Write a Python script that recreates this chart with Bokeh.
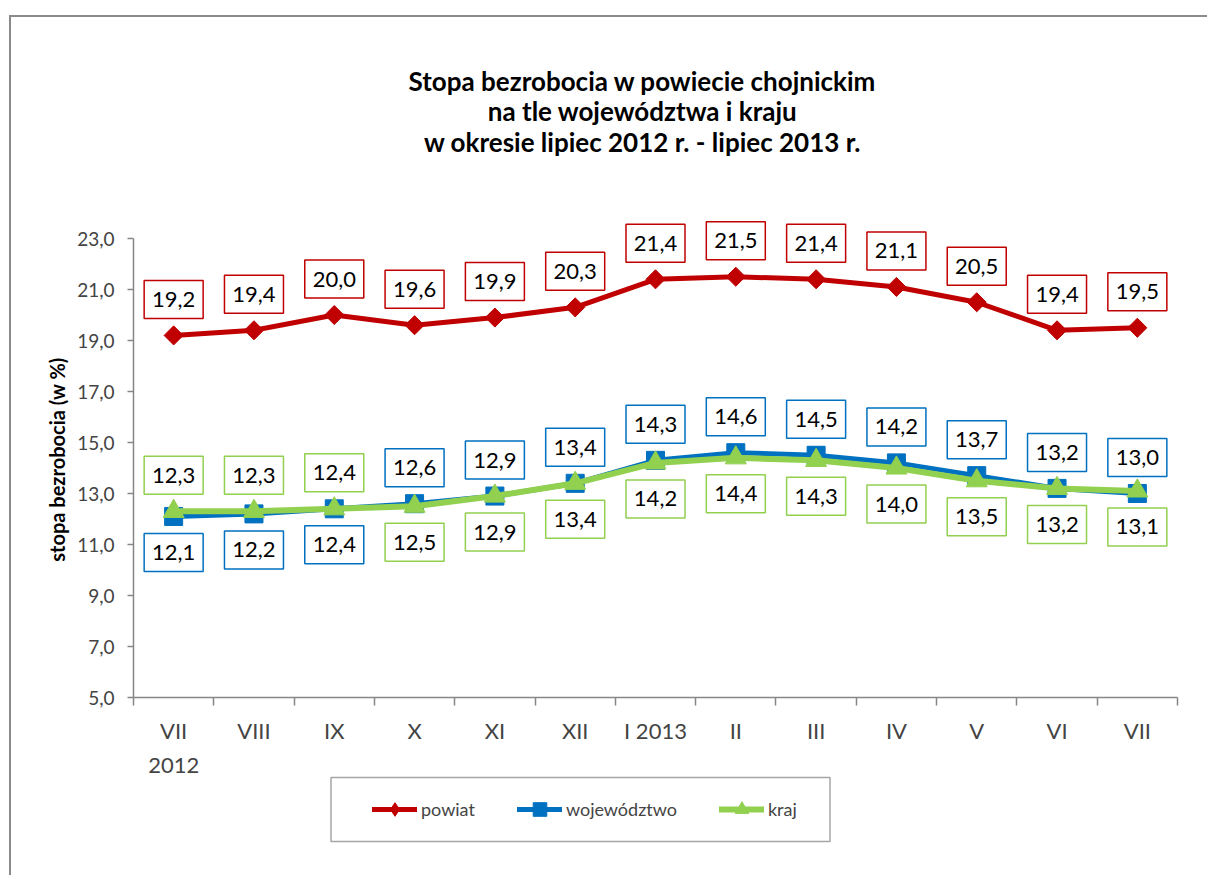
import math
from bokeh.plotting import figure
from bokeh.models import (Range1d, FixedTicker, LinearAxis, Legend, LegendItem, ColumnDataSource)
from bokeh.core.properties import value
from bokeh.embed import file_html
from bokeh.resources import INLINE

# ---------------- data ----------------
months = ["VII", "VIII", "IX", "X", "XI", "XII", "I 2013", "II", "III", "IV", "V", "VI", "VII"]
first_year = "2012"
powiat = [19.2, 19.4, 20.0, 19.6, 19.9, 20.3, 21.4, 21.5, 21.4, 21.1, 20.5, 19.4, 19.5]
wojewodztwo = [12.1, 12.2, 12.4, 12.6, 12.9, 13.4, 14.3, 14.6, 14.5, 14.2, 13.7, 13.2, 13.0]
kraj = [12.3, 12.3, 12.4, 12.5, 12.9, 13.4, 14.2, 14.4, 14.3, 14.0, 13.5, 13.2, 13.1]
series_names = ["powiat", "województwo", "kraj"]
y_ticks = [5, 7, 9, 11, 13, 15, 17, 19, 21, 23]
title_lines = ["Stopa bezrobocia w powiecie chojnickim",
               "na tle województwa i kraju",
               "w okresie lipiec 2012 r. - lipiec 2013 r."]
y_label = "stopa bezrobocia (w %)"

# ---------------- style / layout (canvas pixels) ----------------
FONT = "Lato"
W, H = 1198, 860
n = len(months)
Y0, Y1 = 5, 23
AX_LEFT_PX, AX_RIGHT_PX = 122, 1166      # plot area left/right in canvas px
AX_TOP_PX, AX_BOTTOM_PX = 221, 680       # y=23 and y=5 in canvas px
PXX = (AX_RIGHT_PX - AX_LEFT_PX) / n
PXY = (AX_BOTTOM_PX - AX_TOP_PX) / (Y1 - Y0)
X_LEFT = -0.5 - AX_LEFT_PX / PXX
X_RIGHT = X_LEFT + W / PXX
Y_TOP = Y1 + AX_TOP_PX / PXY
Y_BOTTOM = Y_TOP - H / PXY


def cx(px):  # canvas px -> data x
    return X_LEFT + px / PXX


def cy(py):  # canvas px -> data y
    return Y_TOP - py / PXY


AXIS_GRAY = "#868686"
RED, BLUE, GREEN = "#C00000", "#0070C0", "#92D050"
side_powiat = [1] * 13
side_woj = [-1, -1, -1] + [1] * 10
side_kraj = [1, 1, 1] + [-1] * 10
LABEL_OFF_PX = 36

p = figure(width=W, height=H, output_backend="svg", toolbar_location=None,
           x_range=Range1d(X_LEFT, X_RIGHT), y_range=Range1d(Y_BOTTOM, Y_TOP),
           x_axis_type=None, y_axis_type=None,
           min_border_left=0, min_border_right=0, min_border_top=0, min_border_bottom=0)
p.outline_line_color = None
p.xgrid.visible = False
p.ygrid.visible = False
p.styles = {"margin-left": "9px", "margin-top": "15px",
            "border-left": "2px solid #8a8a8a", "border-top": "2px solid #8a8a8a"}

# title (three centred lines)
title_src = ColumnDataSource(dict(x=[cx(631)] * 3, y=[cy(63), cy(93.5), cy(124.5)], t=title_lines))
p.text(x="x", y="y", text="t", source=title_src, text_align="center", text_baseline="middle",
       text_font=value(FONT), text_font_size="26px", text_font_style="bold", text_color="black")

# y axis label
p.text(x=[cx(45)], y=[cy(442)], text=[y_label], angle=math.pi / 2, text_align="center",
       text_baseline="middle", text_font=value(FONT), text_font_size="20px",
       text_font_style="bold", text_color="black")

# y axis
yax = LinearAxis(ticker=FixedTicker(ticks=y_ticks), bounds=(Y0, Y1), fixed_location=-0.5,
                 major_label_overrides={t: f"{t:.1f}".replace(".", ",") for t in y_ticks},
                 major_label_text_font=FONT, major_label_text_font_size="19px",
                 major_label_standoff=13, major_tick_out=6, major_tick_in=0,
                 minor_tick_out=0, minor_tick_in=0,
                 axis_line_color=AXIS_GRAY, axis_line_width=1.5,
                 major_tick_line_color=AXIS_GRAY, major_tick_line_width=1.5)
p.add_layout(yax, "left")

# x axis: labels at category centres, tick marks between categories
xax = LinearAxis(ticker=FixedTicker(ticks=list(range(n)), minor_ticks=[i - 0.5 for i in range(n + 1)]),
                 bounds=(-0.5, n - 0.5), fixed_location=Y0,
                 major_label_overrides={i: m for i, m in enumerate(months)},
                 major_label_text_font=FONT, major_label_text_font_size="22px",
                 major_label_standoff=11, major_tick_out=0, major_tick_in=0,
                 major_tick_line_color=None,
                 minor_tick_out=8, minor_tick_in=0, minor_tick_line_color=AXIS_GRAY,
                 minor_tick_line_width=1.5,
                 axis_line_color=AXIS_GRAY, axis_line_width=1.5)
p.add_layout(xax, "below")
xax2 = LinearAxis(ticker=FixedTicker(ticks=[0]), fixed_location=Y0,
                  major_label_overrides={0: first_year},
                  major_label_text_font=FONT, major_label_text_font_size="22px",
                  major_label_standoff=60, major_tick_out=0, major_tick_in=0,
                  major_tick_line_color=None, minor_tick_line_color=None,
                  axis_line_color=None)
p.add_layout(xax2, "below")

# legend frame
LEG_CX, LEG_CY, LEG_W, LEG_H = 569, 792, 499, 64
p.rect(x=[cx(LEG_CX)], y=[cy(LEG_CY)], width=LEG_W, height=LEG_H, width_units="screen",
       height_units="screen", fill_color="white", line_color="#a6a6a6", line_width=1.5)

xs = list(range(n))
items = []
series = [(powiat, RED, side_powiat, dict(marker="square", angle=math.pi / 4, size=13.5), 5, "diamond"),
          (wojewodztwo, BLUE, side_woj, dict(marker="square", size=18), 5, "square"),
          (kraj, GREEN, side_kraj, dict(marker="triangle", size=21), 6, "triangle")]
label_parts = []
for (vals, col, side, mk, lw, leg_marker), name in zip(series, series_names):
    lr = p.line(xs, vals, line_color=col, line_width=lw, line_cap="round", line_join="round")
    mr = p.scatter(xs, vals, fill_color=col, line_color=col, **mk)
    # marker shown only in the legend swatch
    legr = p.scatter(xs, vals, marker=leg_marker, fill_color=col, line_color=col, size=14,
                     visible=False)
    items.append(LegendItem(label=name, renderers=[lr, legr]))
    label_parts.append((vals, col, side))

for vals, col, side in label_parts:
    by = [v + s * LABEL_OFF_PX / PXY for v, s in zip(vals, side)]
    src = ColumnDataSource(dict(x=xs, y=by, t=[f"{v:.1f}".replace(".", ",") for v in vals]))
    p.rect(x="x", y="y", width=59, height=38, width_units="screen", height_units="screen",
           fill_color="white", line_color=col, line_width=1.5, source=src)
    p.text(x="x", y="y", text="t", text_align="center", text_baseline="middle",
           text_font=value(FONT), text_font_size="22px", text_color="black", source=src)

# legend items: bottom-left corner relative to the plot frame (y measured upward)
LEG_ITEM_H = 34
legend = Legend(items=items, orientation="horizontal",
                location=(361, H - (LEG_CY + LEG_ITEM_H / 2)),
                padding=0, spacing=42, glyph_width=45, glyph_height=LEG_ITEM_H,
                label_height=LEG_ITEM_H, label_standoff=4, click_policy="none",
                label_text_font=FONT, label_text_font_size="18px",
                border_line_color=None, background_fill_alpha=0.0, margin=0)
p.add_layout(legend)

open("out.html", "w").write(file_html(p, INLINE))
